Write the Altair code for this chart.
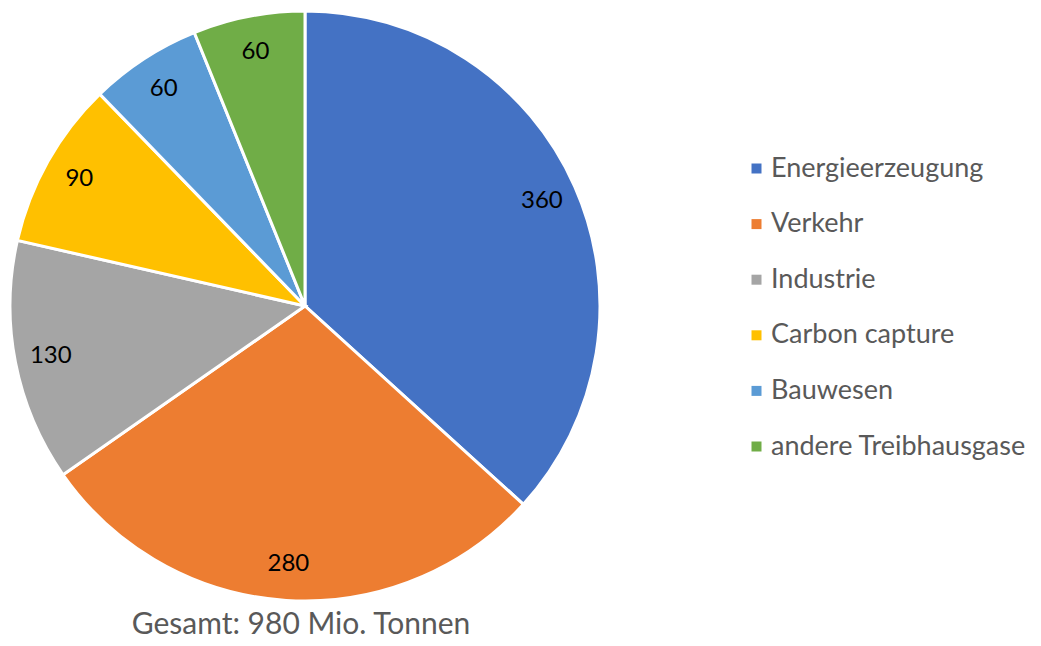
import altair as alt
import pandas as pd

categories = ["Energieerzeugung", "Verkehr", "Industrie", "Carbon capture", "Bauwesen", "andere Treibhausgase"]
values = [360, 280, 130, 90, 60, 60]
colors = ["#4472C4", "#ED7D31", "#A5A5A5", "#FFC000", "#5B9BD5", "#70AD47"]
title_text = "Gesamt: 980 Mio. Tonnen"

df = pd.DataFrame({"cat": categories, "val": values, "idx": list(range(len(categories)))})

FONT = "Lato"
CX, CY, R = 297, 298, 295

base = alt.Chart(df).encode(
    theta=alt.Theta("val:Q", stack=True),
    order=alt.Order("idx:Q"),
)

arcs = base.mark_arc(outerRadius=R, stroke="white", strokeWidth=3).encode(
    color=alt.Color(
        "cat:N",
        scale=alt.Scale(domain=categories, range=colors),
        sort=categories,
        legend=alt.Legend(
            title=None,
            orient="none",
            legendX=735,
            legendY=147,
            symbolType="square",
            symbolSize=100,
            symbolStrokeWidth=0,
            labelFont=FONT,
            labelFontSize=27,
            labelColor="#595959",
            labelLimit=0,
            rowPadding=27.6,
            labelOffset=1,
        ),
    ),
    x=alt.value(CX),
    y=alt.value(CY),
)

labels = base.mark_text(radius=259, font=FONT, fontSize=24, color="#000000").encode(
    text=alt.Text("val:Q"),
    x=alt.value(CX),
    y=alt.value(CY),
)

chart = (
    alt.layer(arcs, labels)
    .properties(
        width=1025,
        height=585,
        padding={"left": 0, "top": 0, "right": 0, "bottom": 45},
        autosize=alt.AutoSizeParams(type="none"),
        title=alt.TitleParams(
            title_text,
            orient="bottom",
            anchor="start",
            align="center",
            baseline="alphabetic",
            dx=CX,
            offset=27,
            font=FONT,
            fontSize=30,
            fontWeight="normal",
            color="#595959",
        ),
    )
    .configure_view(stroke=None)
)

chart.save("out.html", embed_options={"renderer": "svg", "actions": False})
